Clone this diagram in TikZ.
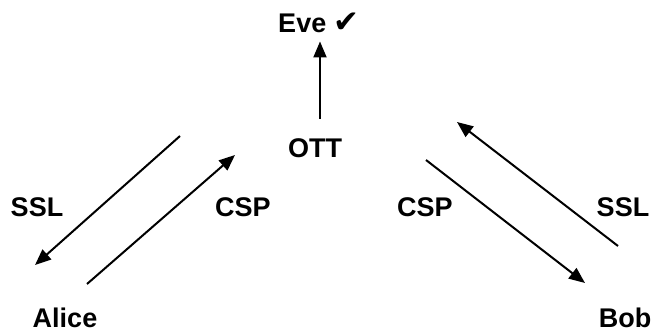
\documentclass[tikz,border=0pt]{standalone}
\usepackage{fontspec}
\setmainfont{Liberation Sans}
\newfontfamily\chkfont{DejaVu Sans}
\usetikzlibrary{arrows.meta}

\begin{document}
\begin{tikzpicture}[x=1pt,y=-1pt,
  every node/.style={font=\bfseries\fontsize{27}{32}\selectfont, inner sep=1pt, anchor=base},
  arr/.style={line width=2pt, -{Triangle[length=16pt,width=13pt]}}]
  \useasboundingbox (0,0) rectangle (654,334);

  \node (eve) at (319,33) {Eve {\chkfont\fontsize{31}{34}\selectfont ✔}};
  \node (ott) at (315,158) {OTT};
  \node (alice) at (65,327) {Alice};
  \node (bob) at (625,327) {Bob};

  \node (sslA) at (37,217) {SSL};
  \node (cspA) at (243,217) {CSP};
  \node (cspB) at (425,217) {CSP};
  \node (sslB) at (623,217) {SSL};

  % ends of the message arrows
  \coordinate (a1) at (180,136);
  \coordinate (a2) at (35,265);
  \coordinate (a3) at (87,284);
  \coordinate (a4) at (235,155);
  \coordinate (b1) at (426,160);
  \coordinate (b2) at (585,283);
  \coordinate (b3) at (618,246);
  \coordinate (b4) at (457,122);

  \draw[arr, shorten <=19pt, shorten >=7pt] ([xshift=1pt]ott.north -| eve.south) -- ([xshift=1pt]eve.south);

  \draw[arr] (a1) -- (a2);
  \draw[arr] (a3) -- (a4);
  \draw[arr] (b1) -- (b2);
  \draw[arr] (b3) -- (b4);
\end{tikzpicture}
\end{document}
